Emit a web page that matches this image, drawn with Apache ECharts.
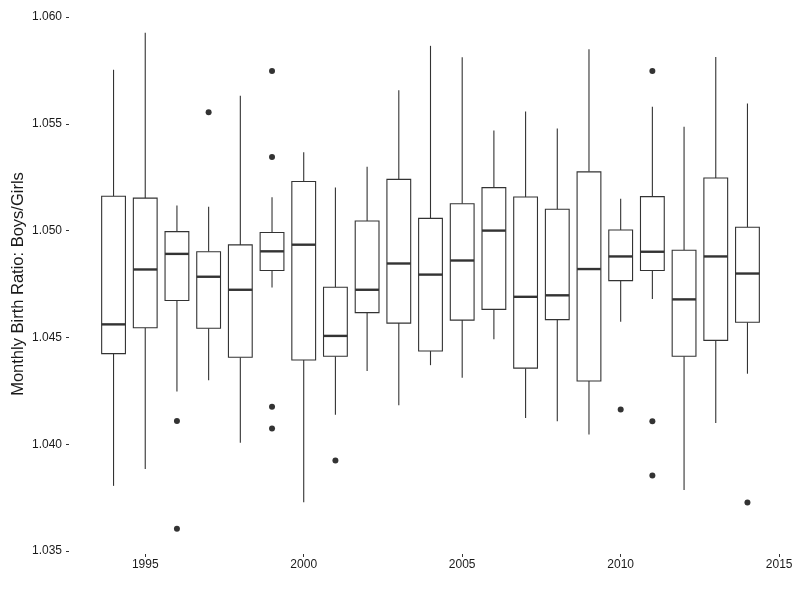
<!DOCTYPE html>
<html>
<head>
<meta charset="utf-8">
<script src="https://cdn.jsdelivr.net/npm/echarts@6/dist/echarts.min.js"></script>
<style>
  html, body { margin: 0; padding: 0; background: #fff; }
  #chart { width: 800px; height: 600px; }
</style>
</head>
<body>
<div id="chart"></div>
<script>
// axis categories (one band per year, with an empty band each side)
const axisYears = ['1993', '1994', '1995', '1996', '1997', '1998', '1999', '2000', '2001', '2002', '2003', '2004',
  '2005', '2006', '2007', '2008', '2009', '2010', '2011', '2012', '2013', '2014', '2015'];

const years = ['1994', '1995', '1996', '1997', '1998', '1999', '2000', '2001', '2002', '2003', '2004',
  '2005', '2006', '2007', '2008', '2009', '2010', '2011', '2012', '2013', '2014'];

const whiskerLow = [1.03805, 1.03884, 1.04247, 1.04299, 1.04007, 1.04734, 1.03728, 1.04138, 1.04343, 1.04182, 1.04370,
  1.04311, 1.04491, 1.04123, 1.04107, 1.04045, 1.04573, 1.04680, 1.03786, 1.04099, 1.04330];
const q1 = [1.04424, 1.04545, 1.04673, 1.04543, 1.04407, 1.04813, 1.04394, 1.04412, 1.04616, 1.04567, 1.04436,
  1.04581, 1.04631, 1.04356, 1.04583, 1.04296, 1.04766, 1.04813, 1.04412, 1.04486, 1.04571];
const median = [1.04561, 1.04818, 1.04891, 1.04784, 1.04723, 1.04903, 1.04934, 1.04507, 1.04723, 1.04846, 1.04794,
  1.04860, 1.05000, 1.04690, 1.04697, 1.04820, 1.04879, 1.04901, 1.04678, 1.04879, 1.04799];
const q3 = [1.05161, 1.05152, 1.04995, 1.04901, 1.04933, 1.04991, 1.05230, 1.04735, 1.05045, 1.05240, 1.05057,
  1.05126, 1.05201, 1.05157, 1.05100, 1.05275, 1.05003, 1.05159, 1.04908, 1.05246, 1.05016];
const whiskerHigh = [1.05753, 1.05926, 1.05118, 1.05112, 1.05631, 1.05156, 1.05367, 1.05202, 1.05299, 1.05657, 1.05865,
  1.05811, 1.05469, 1.05557, 1.05478, 1.05849, 1.05149, 1.05580, 1.05486, 1.05813, 1.05595];

const outliers = [
  ['1996', 1.04109], ['1996', 1.03604],
  ['1997', 1.05554],
  ['1999', 1.05747], ['1999', 1.05344], ['1999', 1.04175], ['1999', 1.04073],
  ['2001', 1.03924],
  ['2010', 1.04163],
  ['2011', 1.05747], ['2011', 1.04107], ['2011', 1.03853],
  ['2014', 1.03727]
];

const xTickLabels = ['1995', '2000', '2005', '2010', '2015'];

const boxData = years.map((y, i) => [y, whiskerLow[i], q1[i], median[i], q3[i], whiskerHigh[i]]);

const ink = '#333333';
const textColor = '#1a1a1a';
const fontFamily = '"Liberation Sans", Arial, sans-serif';

const chart = echarts.init(document.getElementById('chart'));

const renderBox = (params, api) => {
  const x = api.value(0);
  const lo = api.coord([x, api.value(1)]);
  const b1 = api.coord([x, api.value(2)]);
  const md = api.coord([x, api.value(3)]);
  const b3 = api.coord([x, api.value(4)]);
  const hi = api.coord([x, api.value(5)]);
  const w = api.size([1, 0])[0] * 0.75;
  const cx = lo[0];
  const left = cx - w / 2;
  return {
    type: 'group',
    children: [
      {
        type: 'line',
        shape: { x1: cx, y1: hi[1], x2: cx, y2: b3[1] },
        style: { stroke: ink, lineWidth: 1.1 }
      },
      {
        type: 'line',
        shape: { x1: cx, y1: b1[1], x2: cx, y2: lo[1] },
        style: { stroke: ink, lineWidth: 1.1 }
      },
      {
        type: 'rect',
        shape: { x: left, y: b3[1], width: w, height: b1[1] - b3[1] },
        style: { fill: '#ffffff', stroke: ink, lineWidth: 1.1 }
      },
      {
        type: 'line',
        shape: { x1: left, y1: md[1], x2: left + w, y2: md[1] },
        style: { stroke: ink, lineWidth: 2.4 }
      }
    ]
  };
};

const option = {
  backgroundColor: '#ffffff',
  animation: false,
  grid: { left: 66, right: 5, top: 17, bottom: 49, containLabel: false, outerBoundsMode: 'none' },
  xAxis: {
    type: 'category',
    data: axisYears,
    boundaryGap: true,
    offset: 3,
    axisLine: { show: false },
    axisTick: {
      show: true,
      length: 3,
      alignWithLabel: true,
      interval: (i, v) => xTickLabels.includes(v),
      lineStyle: { color: ink, width: 1 }
    },
    axisLabel: {
      interval: (i, v) => xTickLabels.includes(v),
      margin: 5,
      fontSize: 12,
      color: textColor,
      fontFamily: fontFamily
    },
    splitLine: { show: false }
  },
  yAxis: {
    type: 'value',
    min: 1.035,
    max: 1.060,
    interval: 0.005,
    name: 'Monthly Birth Ratio: Boys/Girls',
    nameLocation: 'middle',
    nameGap: 39,
    nameMoveOverlap: false,
    nameTextStyle: { fontSize: 16.5, color: textColor, fontFamily: fontFamily },
    axisLine: { show: false },
    axisTick: { show: true, inside: true, length: 3, lineStyle: { color: ink, width: 1 } },
    axisLabel: {
      margin: 4,
      fontSize: 12,
      color: textColor,
      fontFamily: fontFamily,
      formatter: v => v.toFixed(3)
    },
    splitLine: { show: false }
  },
  series: [
    {
      type: 'custom',
      name: 'box',
      renderItem: renderBox,
      encode: { x: 0, y: [1, 2, 3, 4, 5] },
      data: boxData,
      z: 2
    },
    {
      type: 'scatter',
      name: 'outliers',
      symbol: 'circle',
      symbolSize: 6,
      itemStyle: { color: ink, opacity: 1 },
      data: outliers,
      z: 3
    }
  ]
};

chart.setOption(option);
</script>
</body>
</html>
